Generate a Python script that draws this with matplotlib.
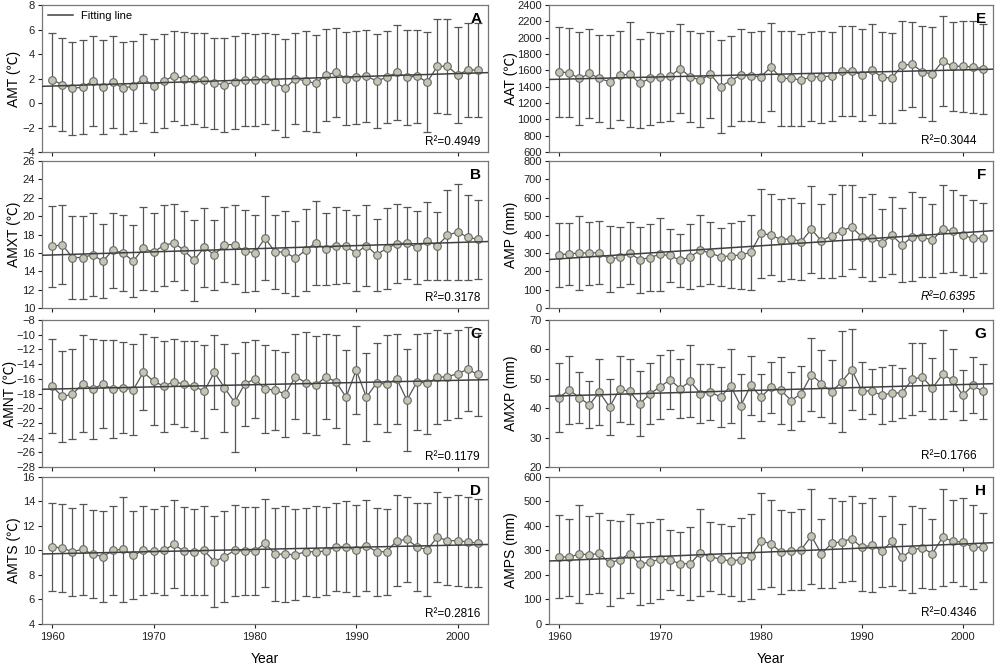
import numpy as np
import matplotlib
matplotlib.use("Agg")
import matplotlib.pyplot as plt

plt.rcParams['font.family'] = ['Liberation Sans', 'Noto Sans CJK SC', 'DejaVu Sans']

# ============ DATA ============
years = np.arange(1960, 2003)

amt_mean = [1.9, 1.5, 1.2, 1.3, 1.8, 1.3, 1.7, 1.2, 1.4, 2.0, 1.4, 1.8, 2.2, 2.0, 2.0, 1.9, 1.6, 1.5, 1.7, 1.9, 1.9, 2.0,
            1.7, 1.2, 2.0, 1.8, 1.6, 2.3, 2.5, 2.0, 2.1, 2.2, 1.8, 2.1, 2.5, 2.1, 2.2, 1.7, 3.0, 3.0, 2.3, 2.7, 2.7]
amt_sd = [3.8, 3.8, 3.8, 3.85, 3.7, 3.85, 3.75, 3.75, 3.7, 3.65, 3.8, 3.8, 3.7, 3.8, 3.75, 3.85, 3.75, 3.85, 3.8, 3.8,
          3.75, 3.75, 3.9, 4.0, 3.75, 4.05, 3.95, 3.75, 3.65, 3.8, 3.8, 3.75, 3.85, 3.75, 3.85, 3.9, 3.8, 4.1, 3.85,
          3.9, 3.9, 3.8, 3.8]

amxt_mean = [16.7, 16.9, 15.5, 15.5, 15.8, 15.1, 16.3, 16.0, 15.1, 16.5, 16.1, 16.8, 17.1, 16.3, 15.2, 16.6, 15.8,
             16.9, 16.9, 16.2, 16.0, 17.6, 16.1, 16.1, 15.4, 16.3, 17.1, 16.4, 16.8, 16.7, 16.0, 16.8, 15.8, 16.5,
             17.0, 17.1, 16.6, 17.3, 16.8, 17.9, 18.3, 17.7, 17.5]
amxt_sd = [4.4, 4.3, 4.5, 4.5, 4.5, 4.0, 4.1, 4.1, 3.9, 4.5, 4.3, 4.4, 4.2, 4.3, 4.4, 4.3, 3.8, 4.1, 4.3, 4.5, 4.1, 4.6,
           4.0, 4.5, 4.1, 4.5, 4.6, 3.9, 4.2, 4.0, 4.1, 4.4, 3.9, 4.4, 4.3, 3.9, 4.0, 4.2, 3.7, 4.9, 5.2, 4.6, 4.3]

amnt_mean = [-17.0, -18.4, -18.1, -16.7, -17.4, -16.7, -17.4, -17.2, -17.5, -15.1, -16.3, -17.0, -16.4, -16.7,
             -17.0, -17.7, -15.1, -17.2, -19.2, -16.7, -16.0, -17.4, -17.5, -18.1, -15.7, -16.5, -16.9, -15.7,
             -16.4, -18.5, -14.8, -18.5, -16.6, -16.7, -16.0, -18.9, -16.4, -16.6, -15.8, -15.7, -15.3, -14.7, -15.4]
amnt_sd = [6.4, 6.2, 6.1, 6.6, 6.8, 6.0, 6.7, 6.2, 6.2, 5.2, 6.0, 6.2, 5.8, 5.8, 6.1, 6.3, 5.0, 6.0, 6.7, 5.7, 5.3, 6.0,
           5.4, 5.8, 5.8, 6.9, 6.7, 5.8, 6.3, 6.4, 6.0, 6.0, 5.5, 6.6, 6.1, 6.9, 6.5, 6.9, 6.4, 5.9, 6.0, 5.7, 5.6]

amts_mean = [10.3, 10.2, 9.9, 10.1, 9.7, 9.5, 10.0, 10.1, 9.6, 10.0, 9.95, 10.0, 10.5, 9.95, 9.9, 10.0, 9.1, 9.5,
             10.0, 9.95, 9.95, 10.6, 9.7, 9.7, 9.65, 9.9, 9.9, 9.95, 10.3, 10.3, 10.0, 10.4, 9.9, 9.9, 10.8, 10.9,
             10.3, 10.05, 11.1, 10.8, 10.8, 10.7, 10.6]
amts_sd = [3.6, 3.6, 3.6, 3.7, 3.6, 3.7, 3.6, 4.3, 3.6, 3.6, 3.4, 3.6, 3.6, 3.6, 3.5, 3.6, 3.7, 3.7, 3.7, 3.6, 3.6, 3.6,
           3.8, 3.9, 3.7, 3.6, 3.7, 3.6, 3.6, 3.7, 3.7, 3.7, 3.6, 3.5, 3.7, 3.5, 3.6, 3.8, 3.7, 3.6, 3.7, 3.7, 3.6]

aat_mean = [1582, 1570, 1501, 1562, 1501, 1461, 1542, 1554, 1441, 1501, 1513, 1530, 1622, 1521, 1481, 1554, 1401,
            1473, 1542, 1530, 1521, 1642, 1501, 1501, 1481, 1521, 1521, 1530, 1594, 1594, 1542, 1610, 1513, 1509,
            1662, 1675, 1582, 1554, 1715, 1650, 1650, 1642, 1622]
aat_sd = [552, 544, 565, 544, 536, 572, 544, 644, 544, 565, 540, 556, 544, 557, 576, 532, 572, 552, 564, 544, 557, 544,
          577, 577, 564, 545, 565, 544, 552, 552, 564, 556, 561, 552, 545, 523, 556, 572, 548, 548, 557, 565, 552]

amp_mean = [290, 295, 300, 299, 302, 266, 276, 298, 263, 275, 292, 286, 259, 280, 314, 299, 279, 284, 289, 303, 406,
            398, 372, 378, 362, 429, 365, 394, 422, 440, 388, 383, 355, 396, 342, 389, 387, 368, 431, 418, 397, 379, 380]
amp_sd = [173, 170, 200, 171, 170, 179, 164, 168, 180, 180, 197, 146, 144, 177, 194, 167, 159, 177, 186, 205, 243, 220,
          224, 220, 210, 236, 203, 229, 249, 230, 218, 235, 185, 211, 200, 242, 217, 200, 241, 223, 217, 209, 192]

amxp_mean = [43.6, 46.3, 43.6, 41.2, 45.5, 40.4, 46.5, 45.7, 41.5, 44.9, 47.3, 49.7, 46.7, 49.2, 45.0, 45.6, 43.8,
             47.6, 40.8, 47.8, 43.8, 47.1, 46.1, 42.6, 45.0, 51.4, 48.4, 45.6, 49.0, 53.1, 46.0, 45.8, 44.4, 45.2,
             45.2, 49.9, 50.6, 46.8, 51.6, 49.5, 44.4, 47.8, 45.7]
amxp_sd = [11.8, 11.5, 8.7, 8.0, 11.2, 9.6, 11.3, 10.9, 11.1, 10.4, 10.9, 10.0, 9.9, 12.2, 9.9, 9.5, 10.1, 12.6, 10.8,
           10.1, 8.0, 8.7, 11.5, 9.9, 9.5, 12.5, 11.3, 10.7, 17.2, 13.8, 9.7, 7.7, 9.8, 9.4, 8.5, 12.2, 11.5, 10.3,
           15.1, 10.5, 8.5, 9.5, 9.2]

amps_mean = [275, 272, 287, 282, 289, 248, 263, 287, 245, 252, 265, 261, 246, 246, 291, 274, 265, 257, 263, 276, 338,
             328, 293, 297, 304, 359, 286, 329, 336, 348, 313, 322, 297, 339, 272, 304, 310, 287, 354, 338, 334, 313, 313]
amps_sd = [168, 157, 200, 160, 164, 175, 158, 162, 167, 165, 163, 123, 129, 148, 178, 141, 144, 144, 170, 173, 196,
           178, 171, 160, 167, 194, 141, 184, 166, 173, 180, 192, 145, 183, 135, 179, 165, 143, 197, 168, 179, 171, 140]

# panel letter, y label, mean, sd, y ticks, R2 label
panels = [
    ("A", "AMT (℃)", amt_mean, amt_sd, np.arange(-4, 9, 2), "R²=0.4949"),
    ("B", "AMXT (℃)", amxt_mean, amxt_sd, np.arange(10, 27, 2), "R²=0.3178"),
    ("C", "AMNT (℃)", amnt_mean, amnt_sd, np.arange(-28, -7, 2), "R²=0.1179"),
    ("D", "AMTS (℃)", amts_mean, amts_sd, np.arange(4, 17, 2), "R²=0.2816"),
    ("E", "AAT (℃)", aat_mean, aat_sd, np.arange(600, 2401, 200), "R²=0.3044"),
    ("F", "AMP (mm)", amp_mean, amp_sd, np.arange(0, 801, 100), "R²=0.6395"),
    ("G", "AMXP (mm)", amxp_mean, amxp_sd, np.arange(20, 71, 10), "R²=0.1766"),
    ("H", "AMPS (mm)", amps_mean, amps_sd, np.arange(0, 601, 100), "R²=0.4346"),
]

# ============ LAYOUT ============
fig = plt.figure(figsize=(10, 6.65), dpi=100)
col_left = [0.042, 0.549]
col_width = [0.446, 0.444]
row_bottom = [0.7714, 0.5368, 0.2977, 0.0617]
row_height = 0.221
xlim = (1959, 2003)

for i, (letter, ylabel, mean, sd, yticks, r2) in enumerate(panels):
    col, row = divmod(i, 4)
    ax = fig.add_axes([col_left[col], row_bottom[row], col_width[col], row_height])
    mean = np.array(mean)
    sd = np.array(sd)

    ax.errorbar(years, mean, yerr=sd, fmt='none', ecolor='#555555', elinewidth=0.9,
                capsize=3, capthick=0.9, zorder=2)
    ax.plot(years, mean, color='#555555', lw=0.9, marker='o', ms=5.5,
            mfc='#c4c5b3', mec='#6a6a6a', mew=0.8, zorder=3)

    # linear fit over the full axis range
    k, b = np.polyfit(years, mean, 1)
    xfit = np.array(xlim)
    ax.plot(xfit, k * xfit + b, color='#404040', lw=1.1, zorder=4, label='Fitting line')

    ax.set_xlim(*xlim)
    ax.set_ylim(yticks[0], yticks[-1])
    ax.set_yticks(yticks)
    ax.set_xticks([1960, 1970, 1980, 1990, 2000])
    ax.tick_params(direction='out', length=3, width=0.8, labelsize=8, colors='#222222', pad=2)
    if row < 3:
        ax.set_xticklabels([])
    for s in ax.spines.values():
        s.set_color('#777777')
        s.set_linewidth(0.9)

    ax.set_ylabel(ylabel, fontsize=10)
    if col == 0:
        # the C panel has wider tick labels, so its label sits further left
        ax.yaxis.set_label_coords(-0.057 if letter == "C" else -0.047, 0.5)
        r2x, r2y = 0.982, 0.068
    else:
        ax.yaxis.set_label_coords(-0.07, 0.5)
        r2x, r2y = 0.962, 0.075

    ax.text(0.985, 0.95, letter, transform=ax.transAxes, ha='right', va='top',
            fontsize=11, fontweight='bold')
    ax.text(r2x, r2y, r2, transform=ax.transAxes, ha='right', va='center',
            fontsize=8.5, style='italic' if letter == "F" else 'normal')

    if letter == "A":
        ax.legend(loc='upper left', frameon=False, fontsize=8, handlelength=2.2,
                  borderaxespad=0.15)
    if row == 3:
        ax.tick_params(axis='x', pad=3)
        ax.set_xlabel("Year", fontsize=10, labelpad=7)

plt.savefig("out.png", dpi=100)
